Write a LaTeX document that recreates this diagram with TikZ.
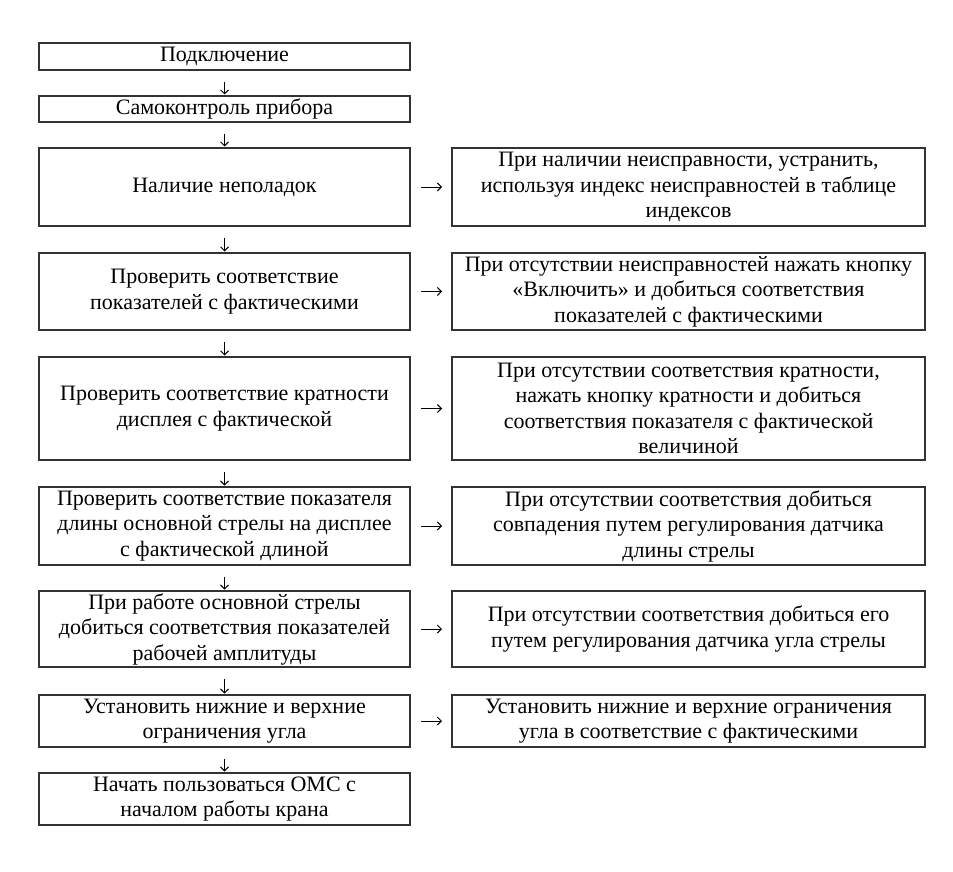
\documentclass[tikz,border=0pt]{standalone}
\usepackage{fontspec}
\setmainfont{Liberation Serif}
\usetikzlibrary{
    calc,
    arrows.meta
}

\begin{document}
\begin{tikzpicture}[
        x=1pt, y=-1pt,
        stage box/.style={draw=black!80, line width=1.1pt, inner sep=0pt, outer sep=0pt,
            align=center, font=\fontsize{22}{25.5}\selectfont},
        left box/.style={stage box, minimum width=371pt},
        right box/.style={stage box, minimum width=473pt},
        flow down/.style={-{Straight Barb[length=4pt,width=8pt]}, line width=0.9pt, shorten <=12pt, shorten >=1.5pt},
        flow right/.style={-{Straight Barb[length=4pt,width=8pt]}, line width=0.9pt, shorten <=11pt, shorten >=10pt}
    ]
    \useasboundingbox (0,0) rectangle (953,872);

    % main sequence
    \node[left box, minimum height=27pt] (s1) at (224.5,56.5) {Подключение};
    \node[left box, minimum height=26pt] (s2) at (224.5,109) {Самоконтроль прибора};
    \node[left box, minimum height=78pt] (s3) at (224.5,187) {Наличие неполадок};
    \node[left box, minimum height=77pt] (s4) at (224.5,291.5) {Проверить соответствие\\показателей с фактическими};
    \node[left box, minimum height=103pt] (s5) at (224.5,408.5) {Проверить соответствие кратности\\дисплея с фактической};
    \node[left box, minimum height=78pt] (s6) at (224.5,526) {Проверить соответствие показателя\\длины основной стрелы на дисплее\\с фактической длиной};
    \node[left box, minimum height=76pt] (s7) at (224.5,629) {При работе основной стрелы\\добиться соответствия показателей\\рабочей амплитуды};
    \node[left box, minimum height=52pt] (s8) at (224.5,721) {Установить нижние и верхние\\ограничения угла};
    \node[left box, minimum height=52pt] (s9) at (224.5,799) {Начать пользоваться ОМС с\\началом работы крана};

    % corrective actions
    \node[right box, minimum height=78pt] (r3) at (688.5,187) {При наличии неисправности, устранить,\\используя индекс неисправностей в таблице\\индексов};
    \node[right box, minimum height=77pt] (r4) at (688.5,291.5) {При отсутствии неисправностей нажать кнопку\\«Включить» и добиться соответствия\\показателей с фактическими};
    \node[right box, minimum height=103pt] (r5) at (688.5,408.5) {При отсутствии соответствия кратности,\\нажать кнопку кратности и добиться\\соответствия показателя с фактической\\величиной};
    \node[right box, minimum height=78pt] (r6) at (688.5,526) {При отсутствии соответствия добиться\\совпадения путем регулирования датчика\\длины стрелы};
    \node[right box, minimum height=76pt] (r7) at (688.5,629) {При отсутствии соответствия добиться его\\путем регулирования датчика угла стрелы};
    \node[right box, minimum height=52pt] (r8) at (688.5,721) {Установить нижние и верхние ограничения\\угла в соответствие с фактическими};

    \foreach \a/\b in {s1/s2,s2/s3,s3/s4,s4/s5,s5/s6,s6/s7,s7/s8,s8/s9} {
        \draw[flow down] (\a) -- (\b);
    }
    \foreach \n in {3,...,8} {
        \draw[flow right] (s\n) -- (r\n);
    }
\end{tikzpicture}
\end{document}
